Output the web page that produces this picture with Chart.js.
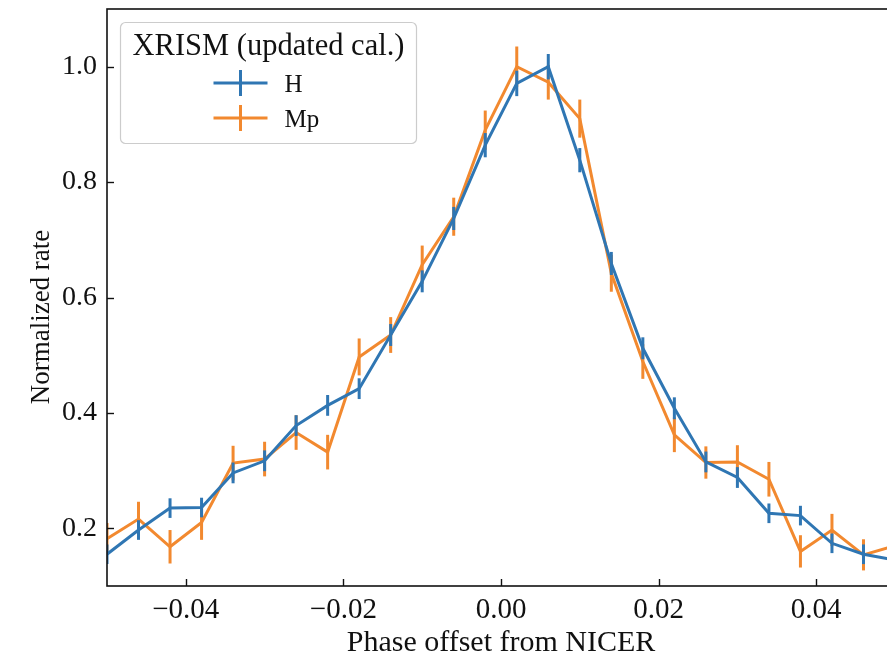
<!DOCTYPE html>
<html lang="en">
<head>
  <meta charset="UTF-8" />
  <title>XRISM pulse profile</title>
  <script src="https://cdn.jsdelivr.net/npm/chart.js"></script>
  <style>
    html, body {
      margin: 0;
      padding: 0;
      background: #fff;
      overflow: hidden;
    }

    .chart-box {
      width: 900px;
      height: 662px;
    }
  </style>
</head>
<body>

<div class="chart-box">
  <canvas id="profile"></canvas>
</div>

<script>
// data
const phase = [-0.05, -0.046, -0.042, -0.038, -0.034, -0.030, -0.026, -0.022, -0.018, -0.014,
               -0.010, -0.006, -0.002, 0.002, 0.006, 0.010, 0.014, 0.018, 0.022, 0.026,
               0.030, 0.034, 0.038, 0.042, 0.046, 0.050];

const rateH  = [0.155, 0.197, 0.235, 0.236, 0.296, 0.317, 0.378, 0.413, 0.442, 0.535,
                0.628, 0.737, 0.864, 0.971, 1.000, 0.838, 0.659, 0.512, 0.408, 0.315,
                0.288, 0.226, 0.222, 0.174, 0.155, 0.145];
const errH   = [0.017, 0.017, 0.017, 0.017, 0.018, 0.018, 0.018, 0.018, 0.018, 0.019,
                0.019, 0.020, 0.021, 0.022, 0.022, 0.021, 0.020, 0.019, 0.019, 0.018,
                0.018, 0.017, 0.017, 0.017, 0.017, 0.016];

const rateMp = [0.182, 0.216, 0.168, 0.210, 0.313, 0.320, 0.366, 0.332, 0.497, 0.535,
                0.657, 0.740, 0.890, 1.000, 0.973, 0.910, 0.642, 0.489, 0.362, 0.314,
                0.315, 0.285, 0.160, 0.197, 0.154, 0.170];
const errMp  = [0.027, 0.030, 0.029, 0.030, 0.030, 0.030, 0.030, 0.030, 0.032, 0.031,
                0.033, 0.033, 0.034, 0.035, 0.030, 0.033, 0.032, 0.030, 0.030, 0.028,
                0.029, 0.030, 0.028, 0.028, 0.027, 0.027];

const xTicks = [-0.04, -0.02, 0.00, 0.02, 0.04];
const yTicks = [0.2, 0.4, 0.6, 0.8, 1.0];

const legendTitle = "XRISM (updated cal.)";
const labelH = "H";
const labelMp = "Mp";
const xLabel = "Phase offset from NICER";
const yLabel = "Normalized rate";

const BLUE = '#2f76b3';
const ORANGE = '#f2892f';
const SERIF = "'Liberation Serif', 'Times New Roman', serif";

const toPoints = (ys) => phase.map((x, i) => ({ x, y: ys[i] }));

// no extra room for half tick labels, the axes box is placed by hand
const noPad = (s) => {
  s.paddingTop = 0;
  s.paddingBottom = 0;
  s.paddingLeft = 0;
  s.paddingRight = 0;
};

// vertical error bars, drawn right after each dataset so layering stays right
const errorBars = {
  id: 'errorBars',
  afterDatasetDraw(chart, args) {
    const ds = chart.data.datasets[args.index];
    if (!ds.err) return;
    const { ctx, chartArea, scales } = chart;
    ctx.save();
    ctx.beginPath();
    ctx.rect(chartArea.left, chartArea.top, chartArea.right - chartArea.left, chartArea.bottom - chartArea.top);
    ctx.clip();
    ctx.strokeStyle = ds.borderColor;
    ctx.lineWidth = 3;
    ds.data.forEach((p, i) => {
      const px = scales.x.getPixelForValue(p.x);
      ctx.beginPath();
      ctx.moveTo(px, scales.y.getPixelForValue(p.y - ds.err[i]));
      ctx.lineTo(px, scales.y.getPixelForValue(p.y + ds.err[i]));
      ctx.stroke();
    });
    ctx.restore();
  }
};

// box, inward ticks, axis titles and the legend, matplotlib style
const frame = {
  id: 'frame',
  afterDraw(chart) {
    const { ctx, chartArea: a, scales } = chart;
    ctx.save();

    ctx.strokeStyle = '#111';
    ctx.lineWidth = 1.6;
    ctx.strokeRect(a.left, a.top, a.right - a.left, a.bottom - a.top);

    ctx.lineWidth = 1.4;
    xTicks.forEach(v => {
      const px = Math.round(scales.x.getPixelForValue(v)) + 0.5;
      ctx.beginPath();
      ctx.moveTo(px, a.bottom);
      ctx.lineTo(px, a.bottom - 7);
      ctx.stroke();
    });
    yTicks.forEach(v => {
      const py = Math.round(scales.y.getPixelForValue(v)) + 0.5;
      ctx.beginPath();
      ctx.moveTo(a.left, py);
      ctx.lineTo(a.left + 7, py);
      ctx.stroke();
    });

    // axis titles
    ctx.fillStyle = '#111';
    ctx.font = `30px ${SERIF}`;
    ctx.textAlign = 'center';
    ctx.textBaseline = 'alphabetic';
    ctx.fillText(xLabel, (a.left + a.right) / 2, 651);

    ctx.save();
    ctx.translate(49, 317);
    ctx.rotate(-Math.PI / 2);
    ctx.font = `27px ${SERIF}`;
    ctx.fillText(yLabel, 0, 0);
    ctx.restore();

    // legend
    const lx = a.left + 13.5, ly = a.top + 13.5, lw = 296, lh = 121;
    ctx.beginPath();
    ctx.roundRect(lx, ly, lw, lh, 5);
    ctx.fillStyle = 'rgba(255,255,255,0.8)';
    ctx.fill();
    ctx.strokeStyle = '#cccccc';
    ctx.lineWidth = 1.2;
    ctx.stroke();

    const cx = lx + lw / 2;
    ctx.fillStyle = '#111';
    ctx.font = `30.5px ${SERIF}`;
    ctx.textAlign = 'center';
    ctx.fillText(legendTitle, cx, ly + 32);

    const entries = [
      { label: labelH, color: BLUE, y: ly + 60.5 },
      { label: labelMp, color: ORANGE, y: ly + 95.5 }
    ];
    ctx.font = `25px ${SERIF}`;
    ctx.textAlign = 'left';
    entries.forEach(e => {
      ctx.strokeStyle = e.color;
      ctx.lineWidth = 3;
      ctx.beginPath();
      ctx.moveTo(lx + 93, e.y);
      ctx.lineTo(lx + 147, e.y);
      ctx.moveTo(lx + 120, e.y - 13);
      ctx.lineTo(lx + 120, e.y + 13);
      ctx.stroke();
      ctx.fillStyle = '#111';
      ctx.fillText(e.label, lx + 164, e.y + 8.5);
    });

    ctx.restore();
  }
};

new Chart(document.getElementById('profile'), {
  type: 'line',
  data: {
    datasets: [
      {
        label: labelH,
        data: toPoints(rateH),
        err: errH,
        borderColor: BLUE,
        backgroundColor: BLUE,
        borderWidth: 3,
        pointRadius: 0,
        tension: 0
      },
      {
        label: labelMp,
        data: toPoints(rateMp),
        err: errMp,
        borderColor: ORANGE,
        backgroundColor: ORANGE,
        borderWidth: 3,
        pointRadius: 0,
        tension: 0
      }
    ]
  },
  options: {
    responsive: true,
    maintainAspectRatio: false,
    animation: false,
    layout: { padding: { top: 9, right: 5, left: 0, bottom: 0 } },
    plugins: {
      legend: { display: false },
      tooltip: { enabled: false }
    },
    scales: {
      x: {
        type: 'linear',
        min: -0.05,
        max: 0.05,
        grid: { display: false, drawTicks: false },
        border: { display: false },
        afterBuildTicks: (s) => { s.ticks = xTicks.map(v => ({ value: v })); },
        afterFit: (s) => { s.height = 76; noPad(s); },
        ticks: {
          color: '#111',
          padding: 7,
          maxRotation: 0,
          font: { family: SERIF, size: 29 },
          callback: (v) => (v < 0 ? '\u2212' : '') + Math.abs(v).toFixed(2)
        }
      },
      y: {
        min: 0.1,
        max: 1.1,
        grid: { display: false, drawTicks: false },
        border: { display: false },
        afterBuildTicks: (s) => { s.ticks = yTicks.map(v => ({ value: v })); },
        afterFit: (s) => { s.width = 107; noPad(s); },
        ticks: {
          color: '#111',
          padding: 10,
          font: { family: SERIF, size: 28 },
          callback: (v) => v.toFixed(1)
        }
      }
    }
  },
  plugins: [errorBars, frame]
});
</script>

</body>
</html>
